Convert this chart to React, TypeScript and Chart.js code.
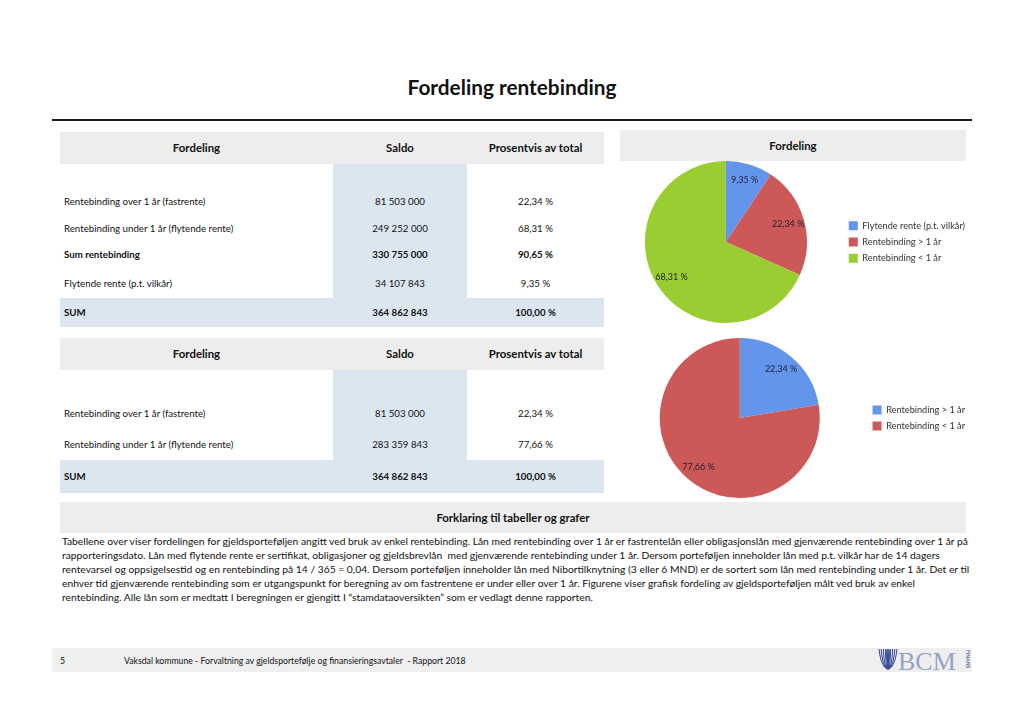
import React, { useEffect, useRef } from "react";
import { Chart, registerables } from "chart.js";

Chart.register(...registerables);

// ---------- DATA ----------
const pageTitle = "Fordeling rentebinding";
const tableHeaders = ["Fordeling", "Saldo", "Prosentvis av total"];

const table1Labels = [
  "Rentebinding over 1 år (fastrente)",
  "Rentebinding under 1 år (flytende rente)",
  "Sum rentebinding",
  "Flytende rente (p.t. vilkår)",
];
const table1Saldo = ["81 503 000", "249 252 000", "330 755 000", "34 107 843"];
const table1Pct = ["22,34 %", "68,31 %", "90,65 %", "9,35 %"];
const table1Bold = [false, false, true, false];

const table2Labels = [
  "Rentebinding over 1 år (fastrente)",
  "Rentebinding under 1 år (flytende rente)",
];
const table2Saldo = ["81 503 000", "283 359 843"];
const table2Pct = ["22,34 %", "77,66 %"];

const sumLabel = "SUM";
const sumSaldo = "364 862 843";
const sumPct = "100,00 %";

const pie1Labels = ["Flytende rente (p.t. vilkår)", "Rentebinding > 1 år", "Rentebinding < 1 år"];
const pie1Values = [9.35, 22.34, 68.31];
const pie1Colors = ["#6495ED", "#CD5858", "#9ACD32"];

const pie2Labels = ["Rentebinding > 1 år", "Rentebinding < 1 år"];
const pie2Values = [22.34, 77.66];
const pie2Colors = ["#6495ED", "#CD5858"];

const explainTitle = "Forklaring til tabeller og grafer";
const explainLines = [
  "Tabellene over viser fordelingen for gjeldsporteføljen angitt ved bruk av enkel rentebinding. Lån med rentebinding over 1 år er fastrentelån eller obligasjonslån med gjenværende rentebinding over 1 år på",
  "rapporteringsdato. Lån med flytende rente er sertifikat, obligasjoner og gjeldsbrevlån  med gjenværende rentebinding under 1 år. Dersom porteføljen inneholder lån med p.t. vilkår har de 14 dagers",
  "rentevarsel og oppsigelsestid og en rentebinding på 14 / 365 = 0,04. Dersom porteføljen inneholder lån med Nibortilknytning (3 eller 6 MND) er de sortert som lån med rentebinding under 1 år. Det er til",
  "enhver tid gjenværende rentebinding som er utgangspunkt for beregning av om fastrentene er under eller over 1 år. Figurene viser grafisk fordeling av gjeldsporteføljen målt ved bruk av enkel",
  "rentebinding. Alle lån som er medtatt I beregningen er gjengitt I “stamdataoversikten” som er vedlagt denne rapporten.",
];
const footerPage = "5";
const footerText = "Vaksdal kommune - Forvaltning av gjeldsportefølje og finansieringsavtaler  - Rapport 2018";

// ---------- STYLE ----------
const FONT = 'Lato, "Open Sans", "DejaVu Sans", sans-serif';
const GRAY = "#ededed";
const BLUE = "#dce6f1";

const pctFmt = (v: number) => v.toFixed(2).replace(".", ",") + " %";

const pieLabelPlugin = {
  id: "pieLabels",
  afterDatasetsDraw(chart: any) {
    const ctx = chart.ctx;
    const meta = chart.getDatasetMeta(0);
    const data = chart.data.datasets[0].data as number[];
    ctx.save();
    ctx.font = `9px ${FONT}`;
    ctx.fillStyle = "#1f1f2f";
    ctx.textAlign = "center";
    ctx.textBaseline = "middle";
    meta.data.forEach((arc: any, i: number) => {
      const p = arc.getProps(["x", "y", "startAngle", "endAngle", "outerRadius"], true);
      const mid = (p.startAngle + p.endAngle) / 2;
      const r = p.outerRadius * 0.8;
      ctx.fillText(pctFmt(data[i]), p.x + Math.cos(mid) * r, p.y + Math.sin(mid) * r);
    });
    ctx.restore();
  },
};

function PieChart(props: {
  labels: string[];
  values: number[];
  colors: string[];
  left: number;
  top: number;
  width: number;
  height: number;
  padding: { top: number; bottom: number; left: number; right: number };
}) {
  const ref = useRef<HTMLCanvasElement | null>(null);
  useEffect(() => {
    if (!ref.current) return;
    const chart = new Chart(ref.current, {
      type: "pie",
      data: {
        labels: props.labels,
        datasets: [
          {
            data: props.values,
            backgroundColor: props.colors,
            borderWidth: 0,
          },
        ],
      },
      options: {
        responsive: false,
        animation: false,
        layout: { padding: props.padding },
        plugins: {
          legend: {
            position: "right",
            labels: {
              boxWidth: 9,
              boxHeight: 9,
              padding: 7,
              color: "#333",
              font: { family: FONT, size: 9.2 },
            },
          },
          tooltip: { enabled: false },
        },
      },
      plugins: [pieLabelPlugin],
    });
    return () => chart.destroy();
  }, []);
  return (
    <canvas
      ref={ref}
      width={props.width}
      height={props.height}
      style={{ position: "absolute", left: props.left, top: props.top, width: props.width, height: props.height }}
    />
  );
}

function Box(props: { x: number; y: number; w: number; h: number; bg: string }) {
  return (
    <div style={{ position: "absolute", left: props.x, top: props.y, width: props.w, height: props.h, background: props.bg }} />
  );
}

function Txt(props: {
  x: number;
  y: number;
  text: string;
  bold?: boolean;
  size?: number;
  align?: "left" | "center";
  color?: string;
}) {
  const size = props.size ?? 10;
  const style: React.CSSProperties = {
    position: "absolute",
    top: props.y - size * 0.7,
    fontSize: size,
    lineHeight: `${size * 1.4}px`,
    fontWeight: props.bold ? 700 : 400,
    whiteSpace: "pre",
    color: props.color ?? "#111",
    fontFamily: FONT,
  };
  if (props.align === "center") {
    style.left = props.x - 300;
    style.width = 600;
    style.textAlign = "center";
  } else {
    style.left = props.x;
  }
  return <div style={style}>{props.text}</div>;
}

const COL1 = 196.5;
const COL2 = 400;
const COL3 = 535.5;

function Table(props: {
  top: number;
  headerH: number;
  bodyBottom: number;
  sumBottom: number;
  rowYs: number[];
  labels: string[];
  saldo: string[];
  pct: string[];
  bold: boolean[];
}) {
  const hy = props.top + props.headerH / 2;
  const sy = (props.bodyBottom + props.sumBottom) / 2;
  return (
    <>
      <Box x={60} y={props.top} w={544} h={props.headerH} bg={GRAY} />
      <Box x={333} y={props.top + props.headerH} w={134} h={props.bodyBottom - props.top - props.headerH} bg={BLUE} />
      <Box x={60} y={props.bodyBottom} w={544} h={props.sumBottom - props.bodyBottom} bg={BLUE} />
      <Txt x={COL1} y={hy} text={tableHeaders[0]} bold size={11.4} align="center" />
      <Txt x={COL2} y={hy} text={tableHeaders[1]} bold size={11.4} align="center" />
      <Txt x={COL3} y={hy} text={tableHeaders[2]} bold size={11.4} align="center" />
      {props.labels.map((l, i) => (
        <React.Fragment key={i}>
          <Txt x={64} y={props.rowYs[i]} text={l} bold={props.bold[i]} size={9.7} />
          <Txt x={COL2} y={props.rowYs[i]} text={props.saldo[i]} bold={props.bold[i]} size={9.7} align="center" />
          <Txt x={COL3} y={props.rowYs[i]} text={props.pct[i]} bold={props.bold[i]} size={9.7} align="center" />
        </React.Fragment>
      ))}
      <Txt x={64} y={sy} text={sumLabel} bold size={9.7} />
      <Txt x={COL2} y={sy} text={sumSaldo} bold size={9.7} align="center" />
      <Txt x={COL3} y={sy} text={sumPct} bold size={9.7} align="center" />
    </>
  );
}

function Logo() {
  return (
    <div style={{ position: "absolute", left: 874, top: 643, width: 100, height: 34 }}>
      <svg width={100} height={34} viewBox="0 0 100 34">
        {[0, 1, 2, 3, 4, 5].map((i) => (
          <path
            key={i}
            d={`M ${5 + i * 2.2} 6 Q ${7 + i * 1.5} 24 ${14} 26`}
            stroke="#3b4f9a"
            strokeWidth={1.1}
            fill="none"
          />
        ))}
        {[0, 1, 2, 3, 4, 5].map((i) => (
          <path
            key={"b" + i}
            d={`M ${23 - i * 2.2} 6 Q ${21 - i * 1.5} 24 ${14} 26`}
            stroke="#3b4f9a"
            strokeWidth={1.1}
            fill="none"
          />
        ))}
        <text x={24} y={27} fontFamily='"Liberation Serif", "DejaVu Serif", serif' fontSize={26} fill="#97a2c8">
          BCM
        </text>
        <text
          x={0}
          y={0}
          fontFamily={FONT}
          fontSize={5}
          fontWeight={700}
          fill="#5a6aa0"
          transform="translate(92,7) rotate(90)"
        >
          FINANS
        </text>
      </svg>
    </div>
  );
}

export default function App() {
  return (
    <div
      style={{
        position: "absolute",
        left: 0,
        top: 0,
        width: 1024,
        height: 724,
        background: "#fff",
        overflow: "hidden",
        fontFamily: FONT,
      }}
    >
      <Txt x={512} y={87} text={pageTitle} bold size={20.8} align="center" />
      <div style={{ position: "absolute", left: 52, top: 119, width: 920, height: 2, background: "#1a1a1a" }} />

      <Table
        top={132}
        headerH={32}
        bodyBottom={298}
        sumBottom={327}
        rowYs={[202, 229, 255, 284]}
        labels={table1Labels}
        saldo={table1Saldo}
        pct={table1Pct}
        bold={table1Bold}
      />
      <Table
        top={338}
        headerH={32}
        bodyBottom={460}
        sumBottom={493}
        rowYs={[414, 445]}
        labels={table2Labels}
        saldo={table2Saldo}
        pct={table2Pct}
        bold={[false, false]}
      />

      <Box x={620} y={130} w={346} h={31} bg={GRAY} />
      <Txt x={793} y={146} text="Fordeling" bold size={11.4} align="center" />

      <PieChart
        labels={pie1Labels}
        values={pie1Values}
        colors={pie1Colors}
        left={610}
        top={161}
        width={365}
        height={162}
        padding={{ top: 0, bottom: 0, left: 0, right: 0 }}
      />
      <PieChart
        labels={pie2Labels}
        values={pie2Values}
        colors={pie2Colors}
        left={614}
        top={336}
        width={361}
        height={164}
        padding={{ top: 2, bottom: 2, left: 0, right: 0 }}
      />

      <Box x={60} y={502} w={906} h={31} bg={GRAY} />
      <Txt x={513} y={518} text={explainTitle} bold size={11.4} align="center" />
      <div
        style={{
          position: "absolute",
          left: 62,
          top: 534,
          fontSize: 10.3,
          lineHeight: "14px",
          whiteSpace: "pre",
          color: "#111",
          fontFamily: FONT,
        }}
      >
        {explainLines.join("\n")}
      </div>

      <Box x={52} y={648} w={920} h={24} bg="#efefef" />
      <Txt x={60} y={661} text={footerPage} size={8.7} />
      <Txt x={124} y={661} text={footerText} size={8.7} />
      <Logo />
    </div>
  );
}
